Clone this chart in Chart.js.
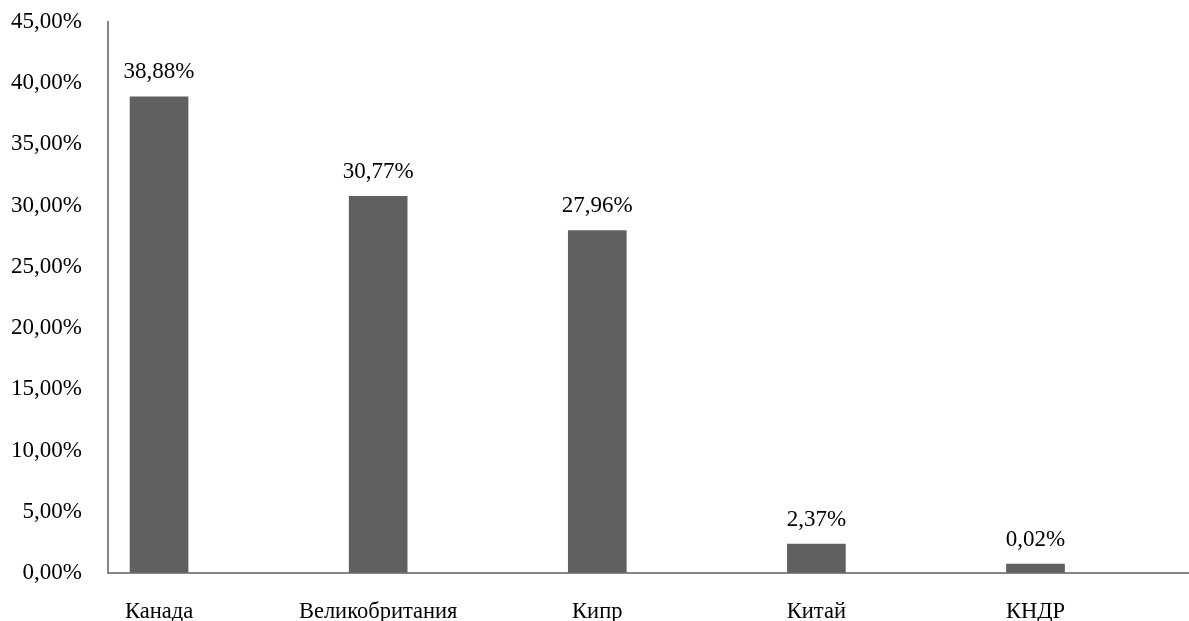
<!DOCTYPE html>
<html>
<head>
<meta charset="utf-8">
<script src="https://cdn.jsdelivr.net/npm/chart.js@4/dist/chart.umd.min.js"></script>
<style>
  html, body { margin: 0; padding: 0; background: #fff; }
  #wrap { width: 1189px; height: 621px; position: relative; }
</style>
</head>
<body>
<div id="wrap"><canvas id="c"></canvas></div>
<script>
// data
const countries = ['Канада', 'Великобритания', 'Кипр', 'Китай', 'КНДР'];
const shares = [38.88, 30.77, 27.96, 2.37, 0.02];
const yTicks = [0, 5, 10, 15, 20, 25, 30, 35, 40, 45];

const FONT = '"Liberation Serif", "Times New Roman", serif';
const AXIS = '#868686';
const BAR = '#606060';

const pct = (v) => v.toFixed(2).replace('.', ',') + '%';

// value labels above each bar
const valueLabels = {
  id: 'valueLabels',
  afterDatasetsDraw(chart) {
    const { ctx } = chart;
    const meta = chart.getDatasetMeta(0);
    ctx.save();
    ctx.font = '23px ' + FONT;
    ctx.fillStyle = '#000';
    ctx.textAlign = 'center';
    ctx.textBaseline = 'bottom';
    meta.data.forEach((bar, i) => {
      ctx.fillText(pct(shares[i]), bar.x, bar.y - 13);
    });
    ctx.restore();
  },
};

new Chart(document.getElementById('c'), {
  type: 'bar',
  data: {
    datasets: [{
      data: shares.map((v, i) => ({ x: i, y: v })),
      backgroundColor: BAR,
      borderWidth: 0,
      barThickness: 58,
      minBarLength: 9,
    }],
  },
  options: {
    responsive: true,
    maintainAspectRatio: false,
    animation: false,
    layout: { padding: { top: 22, right: 1, left: 0, bottom: 0 } },
    plugins: { legend: { display: false }, tooltip: { enabled: false } },
    scales: {
      x: {
        type: 'linear',
        offset: false,
        min: -0.233,
        max: 4.696,
        afterBuildTicks: (s) => { s.ticks = countries.map((_, i) => ({ value: i })); },
        afterFit: (s) => { s.height = 48; },
        grid: { display: false, drawTicks: false },
        border: { color: AXIS, width: 2 },
        ticks: {
          autoSkip: false,
          maxRotation: 0,
          padding: 26,
          color: '#000',
          font: { family: FONT, size: 22.5 },
          callback: (v) => countries[v] ?? '',
        },
      },
      y: {
        min: 0,
        max: 45,
        afterBuildTicks: (s) => { s.ticks = yTicks.map((v) => ({ value: v })); },
        afterFit: (s) => { s.width = 108; },
        // invisible tick marks keep the labels off the axis line
        grid: { drawOnChartArea: false, drawTicks: true, tickLength: 26, tickColor: 'rgba(0,0,0,0)' },
        border: { color: AXIS, width: 2 },
        ticks: {
          padding: 0,
          color: '#000',
          font: { family: FONT, size: 23 },
          callback: (v) => pct(v),
        },
      },
    },
  },
  plugins: [valueLabels],
});
</script>
</body>
</html>
